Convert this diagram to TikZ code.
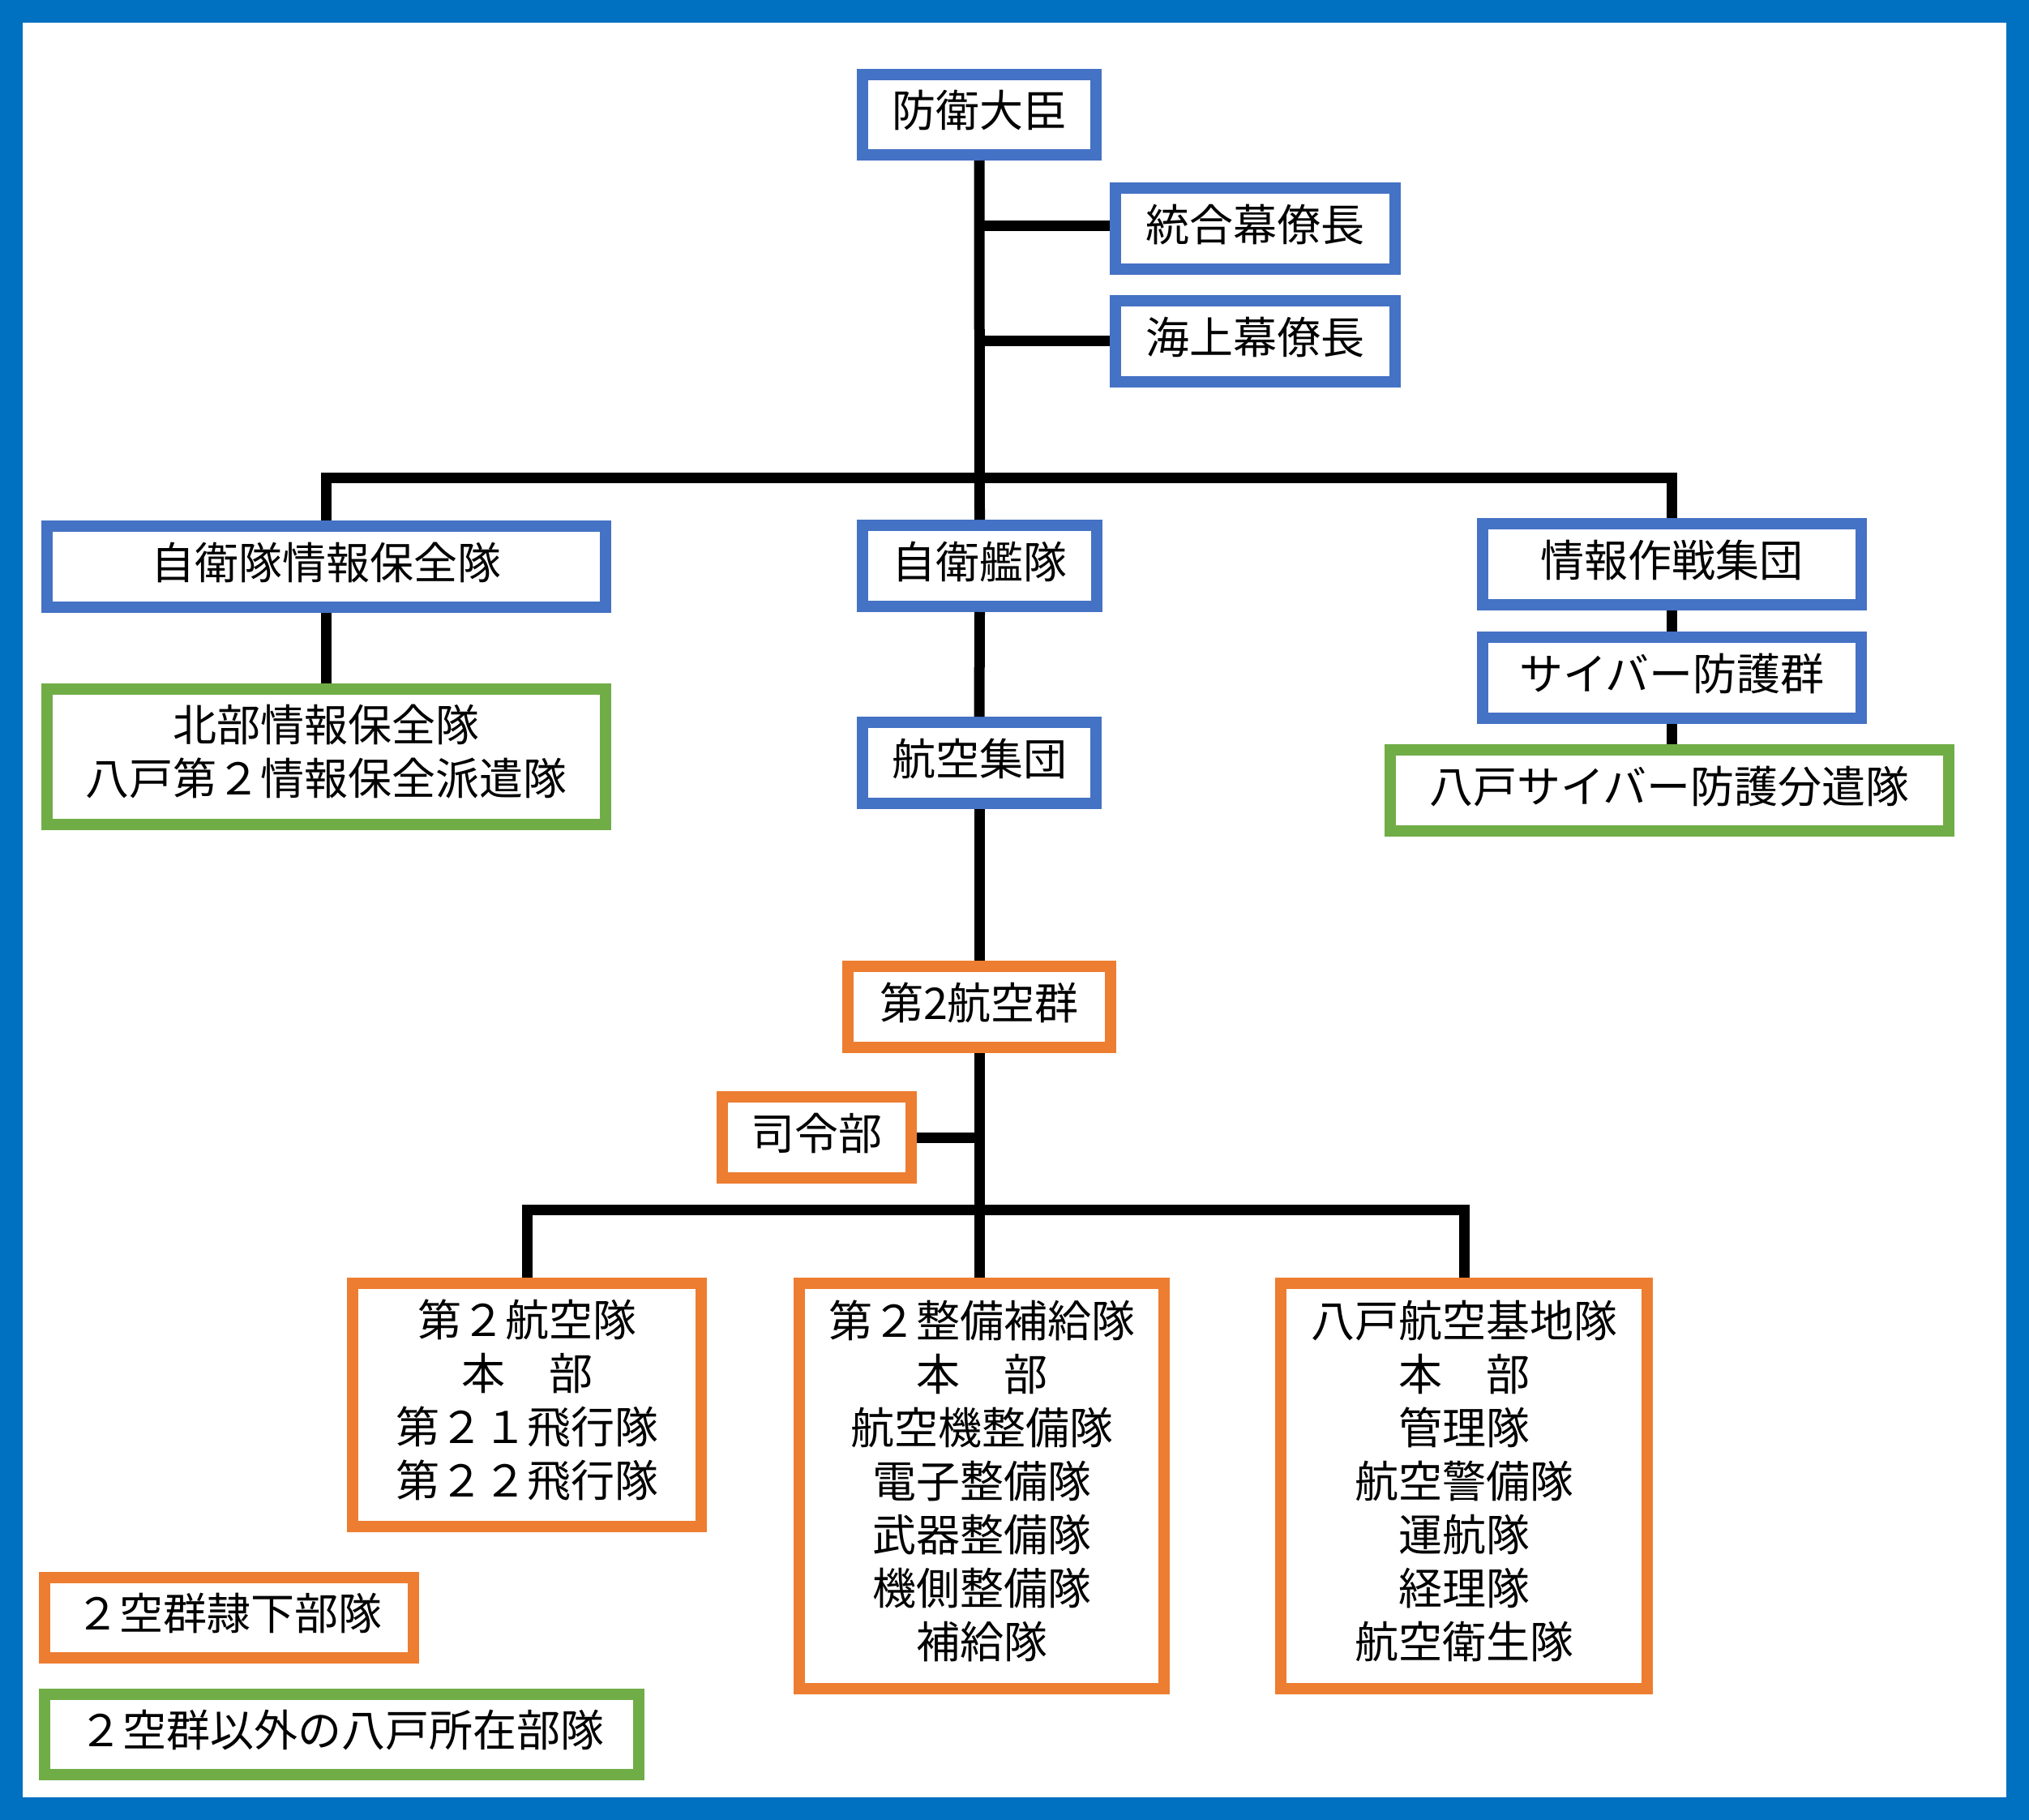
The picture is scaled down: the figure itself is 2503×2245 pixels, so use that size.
\documentclass[tikz,border=0pt]{standalone}
\usepackage{fontspec}
\setmainfont{Noto Sans CJK JP}
\definecolor{frameblue}{HTML}{0070C0}
\definecolor{boxblue}{HTML}{4472C4}
\definecolor{boxorange}{HTML}{ED7D31}
\definecolor{boxgreen}{HTML}{70AD47}
\newcommand{\dn}{\rule[-17pt]{0pt}{17pt}}
\begin{document}
\begin{tikzpicture}[x=1pt,y=-1pt,
  unitbox/.style n args={3}{draw=#1, line width=14pt, fill=white, inner sep=0pt,
    minimum width={(#2-14)*1pt}, minimum height={(#3-14)*1pt}, align=center,
    font=\fontsize{54pt}{66pt}\selectfont, text=black},
  bluebox/.style 2 args={unitbox={boxblue}{#1}{#2}},
  orangebox/.style 2 args={unitbox={boxorange}{#1}{#2}},
  greenbox/.style 2 args={unitbox={boxgreen}{#1}{#2}},
  oneline/.style={text height=44pt, text depth=14pt},
  conn/.style={draw=black, line width=13pt, line join=miter}]
\useasboundingbox (0,0) rectangle (2503,2245);
\fill[white] (0,0) rectangle (2503,2245);
\draw[frameblue, line width=28pt] (14,14) rectangle (2489,2231);

\node[bluebox={302}{113}, oneline] (daijin) at (1208,141.5) {防衛大臣};
\node[bluebox={359}{114}, oneline] (togo) at (1548.5,282) {統合幕僚長};
\node[bluebox={359}{114}, oneline] (kaijo) at (1548.5,421) {海上幕僚長};
\node[bluebox={703}{114}, oneline] (hozen) at (402.5,699) {自衛隊情報保全隊};
\node[bluebox={303}{114}, oneline] (kantai) at (1208.5,698) {自衛艦隊};
\node[bluebox={481}{114}, oneline] (joho) at (2062.5,696) {情報作戦集団};
\node[bluebox={481}{114}, oneline] (cyber) at (2062.5,836) {サイバー防護群};
\node[greenbox={703}{114}, oneline] (hcyber) at (2059.5,975) {八戸サイバー防護分遣隊};
\node[greenbox={703}{181}] (hokubu) at (402.5,933.5) {北部情報保全隊\\八戸第２情報保全派遣隊\dn};
\node[bluebox={302}{114}, oneline] (koku) at (1208,941) {航空集団};
\node[orangebox={338}{114}, oneline] (gun) at (1208,1242) {第2航空群};
\node[orangebox={247}{114}, oneline] (shirei) at (1007.5,1403) {司令部};
\node[orangebox={444}{314}] (kokutai) at (650,1733) {第２航空隊\\本　部\\第２１飛行隊\\第２２飛行隊\dn};
\node[orangebox={464}{514}] (seibi) at (1211,1833) {第２整備補給隊\\本　部\\航空機整備隊\\電子整備隊\\武器整備隊\\機側整備隊\\補給隊\dn};
\node[orangebox={466}{514}] (kichi) at (1806,1833) {八戸航空基地隊\\本　部\\管理隊\\航空警備隊\\運航隊\\経理隊\\航空衛生隊\dn};
\node[orangebox={469}{113}, oneline] (leg1) at (282.5,1995.5) {２空群隷下部隊};
\node[greenbox={747}{113}, oneline] (leg2) at (421.5,2139.5) {２空群以外の八戸所在部隊};

\coordinate (toprow) at (1209,589);
\coordinate (botrow) at (1209,1492);

\draw[conn] (daijin.south) -- (kantai.north);
\draw[conn] ([yshift=4pt]togo.west) -- ([yshift=4pt]togo.west -| daijin.south);
\draw[conn] ([yshift=1pt]kaijo.west) -- ([yshift=1pt]kaijo.west -| daijin.south);
\draw[conn] (hozen.north) |- (toprow) -| (joho.north);
\draw[conn] (hozen.south) -- (hokubu.north);
\draw[conn] (joho.south) -- (cyber.north);
\draw[conn] (cyber.south) -- (hcyber.north -| cyber.south);
\draw[conn] (kantai.south) -- (koku.north);
\draw[conn] (koku.south) -- (gun.north);
\draw[conn] (gun.south) -- (seibi.north -| gun.south);
\draw[conn] (shirei.east) -- (shirei.east -| gun.south);
\draw[conn] (kokutai.north) |- (botrow) -| (kichi.north);
\end{tikzpicture}
\end{document}
